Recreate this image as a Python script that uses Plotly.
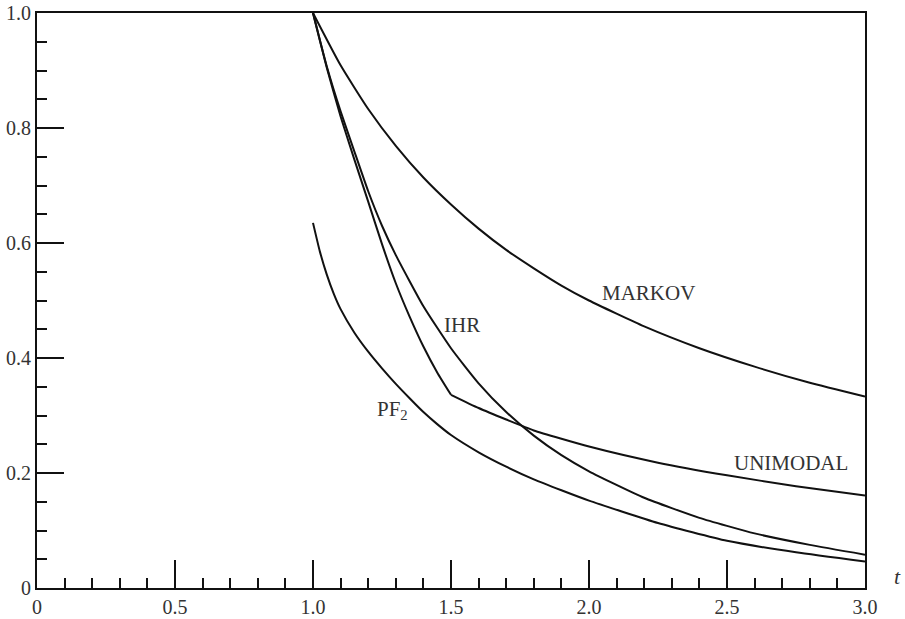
import plotly.graph_objects as go

# Upper bounds on P(X >= t) for a life distribution with mean 1
t_markov = [1.0, 1.1, 1.2, 1.3, 1.4, 1.5, 1.6, 1.7, 1.8, 1.9, 2.0, 2.2, 2.4, 2.6, 2.8, 3.0]
markov = [1.0, 0.909, 0.833, 0.769, 0.714, 0.667, 0.625, 0.588, 0.556, 0.526, 0.5,
          0.455, 0.417, 0.385, 0.357, 0.333]

t_ihr = [1.0, 1.05, 1.1, 1.15, 1.2, 1.25, 1.3, 1.4, 1.5, 1.6, 1.7, 1.8, 1.9, 2.0,
         2.2, 2.4, 2.6, 2.8, 3.0]
ihr = [1.0, 0.907, 0.829, 0.759, 0.69, 0.63, 0.579, 0.49, 0.417, 0.356, 0.306, 0.265,
       0.231, 0.203, 0.157, 0.122, 0.095, 0.075, 0.058]

t_unimodal_a = [1.0, 1.05, 1.1, 1.15, 1.2, 1.25, 1.3, 1.35, 1.4, 1.45, 1.5]
unimodal_a = [1.0, 0.905, 0.82, 0.745, 0.672, 0.598, 0.53, 0.472, 0.42, 0.375, 0.336]
t_unimodal_b = [1.5, 1.6, 1.7, 1.8, 2.0, 2.25, 2.5, 2.75, 3.0]
unimodal_b = [0.336, 0.313, 0.293, 0.274, 0.246, 0.218, 0.196, 0.177, 0.161]

t_pf2 = [1.0, 1.025, 1.05, 1.075, 1.1, 1.15, 1.2, 1.25, 1.3, 1.35, 1.4, 1.45, 1.5,
         1.6, 1.7, 1.8, 1.9, 2.0, 2.25, 2.5, 2.75, 3.0]
pf2 = [0.635, 0.585, 0.545, 0.512, 0.485, 0.444, 0.411, 0.382, 0.355, 0.33, 0.306,
       0.285, 0.266, 0.236, 0.211, 0.189, 0.17, 0.152, 0.113, 0.082, 0.062, 0.046]

x_ticks = [0, 0.5, 1.0, 1.5, 2.0, 2.5, 3.0]
x_labels = ["0", "0.5", "1.0", "1.5", "2.0", "2.5", "3.0"]
y_ticks = [0, 0.2, 0.4, 0.6, 0.8, 1.0]
y_labels = ["0", "0.2", "0.4", "0.6", "0.8", "1.0"]

curve_labels = [
    ("MARKOV", 2.217, 0.513, "center"),
    ("IHR", 1.539, 0.457, "center"),
    ("UNIMODAL", 2.731, 0.218, "center"),
    ("PF<sub>2</sub>", 1.225, 0.31, "left"),
]

FONT = "Liberation Serif"
INK = "#111111"
TEXT = "#333333"

fig = go.Figure()
curves = [(t_markov, markov), (t_ihr, ihr), (t_unimodal_a, unimodal_a),
          (t_unimodal_b, unimodal_b), (t_pf2, pf2)]
for xs, ys in curves:
    fig.add_trace(go.Scatter(x=xs, y=ys, mode="lines",
                             line=dict(color=INK, width=2, shape="spline", smoothing=0.5),
                             showlegend=False, hoverinfo="skip"))

for text, x, y, anchor in curve_labels:
    fig.add_annotation(x=x, y=y, text=text, showarrow=False, xanchor=anchor,
                       yanchor="middle", font=dict(family=FONT, size=21, color=TEXT))

fig.add_annotation(xref="paper", yref="paper", x=1.039, y=0.02, text="<i>t</i>",
                   showarrow=False, xanchor="center", yanchor="middle",
                   font=dict(family=FONT, size=22, color=TEXT))

axis_common = dict(tickmode="array", ticks="inside", tickwidth=1.5, tickcolor=INK,
                   showline=True, linewidth=2, linecolor=INK, mirror=True,
                   showgrid=False, zeroline=False, automargin=False,
                   tickfont=dict(family=FONT, size=20, color=TEXT))

fig.update_xaxes(range=[0, 3], tickvals=x_ticks, ticktext=x_labels, ticklen=28,
                 minor=dict(ticks="inside", dtick=0.1, tick0=0, ticklen=10,
                            tickwidth=1.5, tickcolor=INK, showgrid=False),
                 **axis_common)
fig.update_yaxes(range=[0, 1], tickvals=y_ticks, ticktext=y_labels, ticklen=27,
                 minor=dict(ticks="inside", dtick=0.05, tick0=0, ticklen=10,
                            tickwidth=1.5, tickcolor=INK, showgrid=False),
                 **axis_common)

fig.update_layout(width=905, height=619,
                  margin=dict(l=37, r=40, t=13, b=31),
                  paper_bgcolor="white", plot_bgcolor="white")

fig.write_html("out.html", config={"displayModeBar": False})
